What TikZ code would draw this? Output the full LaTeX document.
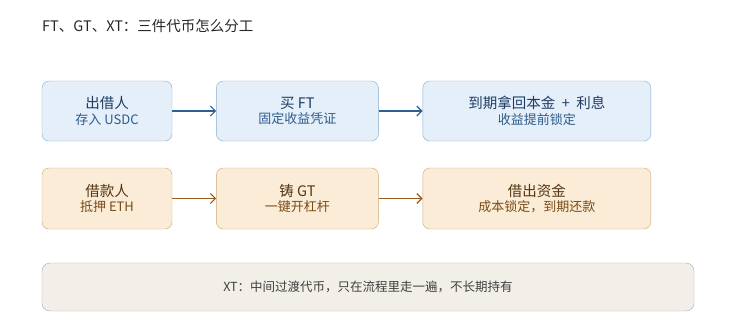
\documentclass[tikz,border=0pt]{standalone}
\usepackage{fontspec}
\setmainfont{Noto Sans CJK SC}
\usepackage{xcolor}
\definecolor{lendfill}{HTML}{E4EFFA}
\definecolor{lenddraw}{HTML}{86A9CF}
\definecolor{lendtext}{HTML}{1E3D63}
\definecolor{lendsub}{HTML}{2D5C8C}
\definecolor{lendarrow}{HTML}{2F5F95}
\definecolor{borrowfill}{HTML}{FBECD8}
\definecolor{borrowdraw}{HTML}{CDA676}
\definecolor{borrowtext}{HTML}{553511}
\definecolor{borrowsub}{HTML}{7A4D14}
\definecolor{borrowarrow}{HTML}{965A1C}
\definecolor{notefill}{HTML}{F2EFE9}
\definecolor{notedraw}{HTML}{ABABAB}
\usetikzlibrary{positioning,arrows.meta}

\newcommand{\boxtext}[3]{{\fontsize{14.5}{17}\selectfont #1}\\[2.5pt]{\fontsize{13}{15}\selectfont\color{#3}#2}}

\begin{document}
\begin{tikzpicture}[
        node distance=44pt,
        lender/.style={draw=lenddraw, fill=lendfill, text=lendtext, rounded corners=7pt, minimum height=60pt, align=center, inner sep=2pt},
        borrower/.style={draw=borrowdraw, fill=borrowfill, text=borrowtext, rounded corners=7pt, minimum height=61pt, align=center, inner sep=2pt},
        arr/.style={-{Straight Barb[length=5pt,width=10pt]}, line width=1.2pt},
    ]
    \useasboundingbox (0pt,0pt) rectangle (743pt,-332pt);

    % === Title ===
    \node[anchor=west, inner sep=0pt, font=\fontsize{14.5}{17}\selectfont, text=black!85] (title) at (42pt,-26pt) {FT、GT、XT：三件代币怎么分工};

    % === Row 1: lender side ===
    \node[lender, minimum width=130pt] (lender) at (107pt,-111pt) {\boxtext{出借人}{存入 USDC}{lendsub}};
    \node[lender, minimum width=162pt, right=of lender] (buyft) {\boxtext{买 FT}{固定收益凭证}{lendsub}};
    \node[lender, minimum width=228pt, right=of buyft] (maturity) {\boxtext{到期拿回本金\ \ +\ \ 利息}{收益提前锁定}{lendsub}};

    \draw[arr, lendarrow] (lender) -- (buyft);
    \draw[arr, lendarrow] (buyft) -- (maturity);

    % === Row 2: borrower side ===
    \node[borrower, minimum width=130pt] (borrower) at (107pt,-198.5pt) {\boxtext{借款人}{抵押 ETH}{borrowsub}};
    \node[borrower, minimum width=162pt, right=of borrower] (mintgt) {\boxtext{铸 GT}{一键开杠杆}{borrowsub}};
    \node[borrower, minimum width=228pt, right=of mintgt] (funds) {\boxtext{借出资金}{成本锁定，到期还款}{borrowsub}};

    \draw[arr, borrowarrow] (borrower) -- (mintgt);
    \draw[arr, borrowarrow] (mintgt) -- (funds);

    % === Note on XT ===
    \node[draw=notedraw, fill=notefill, rounded corners=8pt, minimum width=652pt, minimum height=48pt, font=\fontsize{12.5}{15}\selectfont, text=black!75] (xtnote) at (368pt,-287pt) {XT：中间过渡代币，只在流程里走一遍，不长期持有};

\end{tikzpicture}
\end{document}
